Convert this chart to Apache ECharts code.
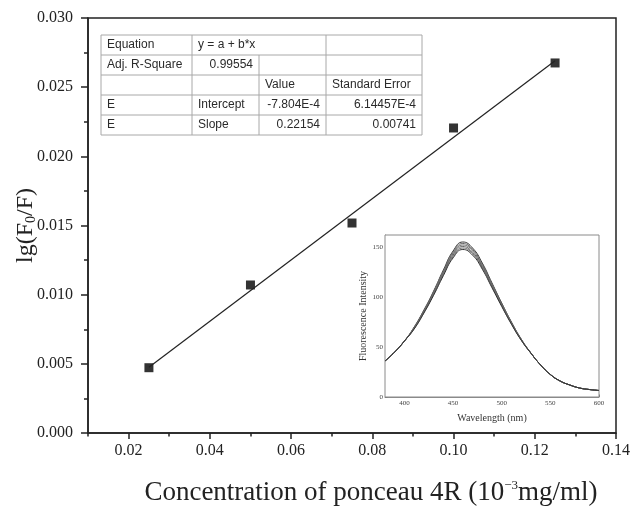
<!DOCTYPE html>
<html>
<head>
<meta charset="UTF-8">
<title>lg(F0/F) - ponceau 4R</title>
<script src="https://cdn.jsdelivr.net/npm/echarts/dist/echarts.min.js"></script>
</head>
<body style="margin:0;background:#fff">
<div id="main" style="width:630px;height:507px;"></div>
<script>
// main plot data
var concentration = [0.025, 0.05, 0.075, 0.1, 0.125];
var lgRatio = [0.00472, 0.0107, 0.01518, 0.02205, 0.02675];
// fitted line end points (y = a + b*x)
var fitX = [0.025, 0.125];
var fitY = [0.00476, 0.02691];
var xMajor = [0.02, 0.04, 0.06, 0.08, 0.10, 0.12, 0.14];

// fit table
var tableRows = [
	['Equation', 'y = a + b*x', '', ''],
	['Adj. R-Square', '0.99554', '', ''],
	['', '', 'Value', 'Standard Error'],
	['E', 'Intercept', '-7.804E-4', '6.14457E-4'],
	['E', 'Slope', '0.22154', '0.00741']
];

// inset: fluorescence spectra
var wavelength = [380, 390, 400, 410, 420, 430, 440, 450, 460, 470, 480, 490, 500, 510, 520, 530, 540, 550, 560, 570, 580, 590, 600];
var spec1 = [36, 45, 56, 70, 87, 106, 127, 146, 155, 149, 134, 114, 94, 75, 58, 44, 32, 22.5, 16, 12, 9, 7.5, 6.5];
var spec2 = [36, 45, 56, 69.6, 86.4, 105.1, 125.9, 144.6, 153.5, 147.6, 132.8, 113, 93.3, 74.5, 57.8, 44, 32, 22.5, 16, 12, 9, 7.5, 6.5];
var spec3 = [36, 45, 56, 69.2, 85.8, 104.3, 124.7, 143.2, 152, 146.2, 131.5, 112.1, 92.6, 74.1, 57.5, 43.9, 32, 22.5, 16, 12, 9, 7.5, 6.5];
var spec4 = [36, 45, 56, 68.8, 85.2, 103.4, 123.6, 141.9, 150.5, 144.7, 130.3, 111.1, 91.9, 73.6, 57.3, 43.9, 32, 22.5, 16, 12, 9, 7.5, 6.5];
var spec5 = [36, 45, 56, 68.4, 84.5, 102.6, 122.4, 140.5, 149, 143.3, 129.1, 110.2, 91.2, 73.2, 57, 43.8, 32, 22.5, 16, 12, 9, 7.5, 6.5];
var spec6 = [36, 45, 56, 68, 83.9, 101.7, 121.3, 139.1, 147.5, 141.9, 127.8, 109.2, 90.5, 72.7, 56.8, 43.8, 32, 22.5, 16, 12, 9, 7.5, 6.5];
var insetXLabels = [400, 450, 500, 550, 600];
var insetXTicks = [400, 425, 450, 475, 500, 525, 550, 575, 600];
var insetYLabels = [0, 50, 100, 150];
var insetYTicks = [0, 25, 50, 75, 100, 125, 150];

var serif = '"Liberation Serif", "Times New Roman", serif';
var myChart = echarts.init(document.getElementById('main'));

function pairs(xs, ys) {
	var arr = [];
	for (var i = 0; i < xs.length; i++) arr.push([xs[i], ys[i]]);
	return arr;
}

// table as graphic elements
var colX = [101, 192, 259, 326, 422];
var rowTop = 35, rowH = 20;
var table = [];
for (var r = 0; r <= tableRows.length; r++) {
	table.push({type: 'line', shape: {x1: colX[0], y1: rowTop + r * rowH, x2: colX[4], y2: rowTop + r * rowH},
		style: {stroke: '#a8a8a8', lineWidth: 1}});
}
[0, 1, 3, 4].forEach(function (c) {
	table.push({type: 'line', shape: {x1: colX[c], y1: rowTop, x2: colX[c], y2: rowTop + 5 * rowH},
		style: {stroke: '#a8a8a8', lineWidth: 1}});
});
table.push({type: 'line', shape: {x1: colX[2], y1: rowTop + rowH, x2: colX[2], y2: rowTop + 5 * rowH},
	style: {stroke: '#a8a8a8', lineWidth: 1}});
tableRows.forEach(function (row, r) {
	row.forEach(function (txt, c) {
		if (!txt) return;
		var isNum = /^-?[0-9]/.test(txt);
		table.push({
			type: 'text',
			style: {
				text: txt,
				x: isNum ? colX[c + 1] - 6 : colX[c] + 6,
				y: rowTop + r * rowH + 10,
				align: isNum ? 'right' : 'left',
				verticalAlign: 'middle',
				font: '12px "Liberation Sans", Arial, sans-serif',
				fill: '#2a2a2a'
			}
		});
	});
});

var specs = [spec1, spec2, spec3, spec4, spec5, spec6];
var specSeries = specs.map(function (s, i) {
	return {
		type: 'line', xAxisIndex: 2, yAxisIndex: 2, smooth: true, symbol: 'none',
		data: pairs(wavelength, s),
		lineStyle: {color: (i === 0 || i === 5) ? '#333' : '#666', width: 1},
		z: 5
	};
});

var option = {
	animation: false,
	backgroundColor: '#fff',
	grid: [
		{left: 88, top: 18, right: 14, bottom: 74, outerBoundsMode: 'none', containLabel: false,
			show: true, borderColor: '#222', borderWidth: 1.5},
		{left: 385, top: 235, width: 214, height: 162, outerBoundsMode: 'none', containLabel: false,
			show: true, backgroundColor: '#fff', borderColor: '#8a8a8a', borderWidth: 1, z: 3}
	],
	xAxis: [
		{
			type: 'value', gridIndex: 0, position: 'bottom', min: 0.01, max: 0.14, interval: 0.01,
			axisLine: {lineStyle: {color: '#222', width: 1.5}},
			axisTick: {customValues: xMajor, length: 6, lineStyle: {color: '#222', width: 1.5}},
			axisLabel: {customValues: xMajor, fontFamily: serif, fontSize: 16, color: '#222', margin: 10,
				formatter: function (v) { return v.toFixed(2); }},
			splitLine: {show: false},
			name: 'Concentration of ponceau 4R (10{sup|\u22123}mg/ml)',
			nameLocation: 'middle', nameGap: 46, nameMoveOverlap: false,
			nameTextStyle: {fontFamily: serif, fontSize: 27, color: '#222', padding: [0, 0, 0, 38],
				rich: {sup: {fontFamily: serif, fontSize: 13, color: '#222', verticalAlign: 'top', padding: [0, 0, 14, 0]}}}
		},
		{
			type: 'value', gridIndex: 0, position: 'bottom', min: 0.01, max: 0.14, interval: 0.01,
			axisLine: {show: false},
			axisTick: {length: 3.5, lineStyle: {color: '#222', width: 1.5}},
			axisLabel: {show: false}, splitLine: {show: false}
		},
		{
			type: 'value', gridIndex: 1, min: 380, max: 600,
			axisLine: {lineStyle: {color: '#8a8a8a', width: 1}},
			axisTick: {customValues: insetXTicks, inside: true, length: 2.5, lineStyle: {color: '#777'}},
			axisLabel: {customValues: insetXLabels, fontFamily: serif, fontSize: 7, color: '#444', margin: 3},
			splitLine: {show: false},
			name: 'Wavelength (nm)', nameLocation: 'middle', nameGap: 16, nameMoveOverlap: false,
			nameTextStyle: {fontFamily: serif, fontSize: 10, color: '#333'}
		}
	],
	yAxis: [
		{
			type: 'value', gridIndex: 0, position: 'left', min: 0, max: 0.03, interval: 0.005,
			axisLine: {lineStyle: {color: '#222', width: 1.5}},
			axisTick: {length: 7, lineStyle: {color: '#222', width: 1.5}},
			axisLabel: {fontFamily: serif, fontSize: 16, color: '#222', margin: 15,
				formatter: function (v) { return v.toFixed(3); }},
			splitLine: {show: false},
			name: 'lg(F{sub|0}/F)', nameLocation: 'middle', nameGap: 50, nameMoveOverlap: false,
			nameTextStyle: {fontFamily: serif, fontSize: 24, color: '#222',
				rich: {sub: {fontFamily: serif, fontSize: 14, color: '#222', verticalAlign: 'bottom', padding: [8, 0, 0, 0]}}}
		},
		{
			type: 'value', gridIndex: 0, position: 'left', min: 0, max: 0.03, interval: 0.0025,
			axisLine: {show: false},
			axisTick: {length: 4, lineStyle: {color: '#222', width: 1.5}},
			axisLabel: {show: false}, splitLine: {show: false}
		},
		{
			type: 'value', gridIndex: 1, min: 0, max: 162,
			axisLine: {lineStyle: {color: '#8a8a8a', width: 1}},
			axisTick: {customValues: insetYTicks, inside: true, length: 2.5, lineStyle: {color: '#777'}},
			axisLabel: {customValues: insetYLabels, fontFamily: serif, fontSize: 7, color: '#444', margin: 2},
			splitLine: {show: false},
			name: 'Fluorescence Intensity', nameLocation: 'middle', nameGap: 17, nameMoveOverlap: false,
			nameTextStyle: {fontFamily: serif, fontSize: 10, color: '#333'}
		}
	],
	series: [
		{
			type: 'line', xAxisIndex: 0, yAxisIndex: 0, symbol: 'none',
			data: pairs(fitX, fitY),
			lineStyle: {color: '#222', width: 1.2}
		},
		{
			type: 'scatter', xAxisIndex: 0, yAxisIndex: 0, symbol: 'rect', symbolSize: 9,
			data: pairs(concentration, lgRatio),
			itemStyle: {color: '#000'}
		}
	].concat(specSeries),
	graphic: table
};

myChart.setOption(option);
</script>
</body>
</html>
